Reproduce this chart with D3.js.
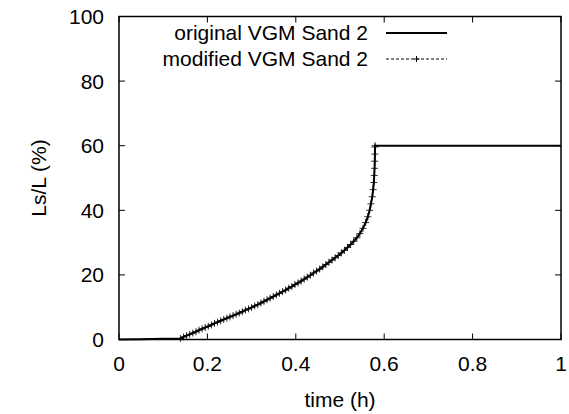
<!DOCTYPE html>
<html>
<head>
<meta charset="utf-8">
<script src="https://cdn.jsdelivr.net/npm/d3@7"></script>
<style>
  html, body { margin: 0; padding: 0; background: #fff; }
  svg text { font-family: "Liberation Sans", Arial, sans-serif; fill: #000; }
</style>
</head>
<body>
<svg id="chart" width="569" height="414"></svg>
<script>
// Saturation front position Ls/L (%) over time (h)
const xTicks = [0, 0.2, 0.4, 0.6, 0.8, 1];
const yTicks = [0, 20, 40, 60, 80, 100];
const seriesNames = ["original VGM Sand 2", "modified VGM Sand 2"];

// modified model: time (h) and Ls/L (%)
const modTime = [0.139, 0.146, 0.153, 0.160, 0.167, 0.174, 0.181, 0.188, 0.195, 0.202,
  0.209, 0.216, 0.223, 0.230, 0.237, 0.244, 0.251, 0.258, 0.265, 0.272,
  0.279, 0.286, 0.293, 0.300, 0.307, 0.314, 0.321, 0.328, 0.335, 0.342,
  0.349, 0.356, 0.363, 0.370, 0.377, 0.384, 0.391, 0.398, 0.405, 0.412,
  0.419, 0.426, 0.433, 0.440, 0.447, 0.454, 0.461, 0.468, 0.475, 0.482,
  0.489, 0.496, 0.503, 0.510, 0.517, 0.524, 0.531, 0.538, 0.545, 0.552,
  0.558, 0.563, 0.567, 0.570, 0.573, 0.575, 0.5765, 0.5775, 0.5782, 0.5787,
  0.5790, 0.5792, 0.5793];
const modLs = [0.3, 0.8, 1.2, 1.6, 2.0, 2.4, 2.9, 3.3, 3.7, 4.1,
  4.5, 5.0, 5.4, 5.8, 6.2, 6.6, 7.0, 7.4, 7.8, 8.2,
  8.6, 9.1, 9.5, 9.9, 10.4, 10.8, 11.3, 11.8, 12.3, 12.8,
  13.3, 13.8, 14.3, 14.8, 15.3, 15.9, 16.4, 17.0, 17.5, 18.1,
  18.7, 19.3, 19.9, 20.6, 21.2, 21.8, 22.5, 23.2, 23.9, 24.6,
  25.3, 26.0, 26.8, 27.6, 28.5, 29.4, 30.4, 31.5, 32.8, 34.4,
  36.2, 38.0, 40.0, 42.0, 44.2, 46.4, 48.6, 50.8, 53.0, 55.2,
  57.4, 59.6, 60.0];

// original model: early plateau, same front, then full-length plateau
const origHeadTime = [0, 0.05, 0.10];
const origHeadLs = [0, 0.1, 0.2];
const origTailTime = [1.0];
const origTailLs = [60.0];

const original = origHeadTime.map((t, i) => [t, origHeadLs[i]])
  .concat(modTime.map((t, i) => [t, modLs[i]]))
  .concat(origTailTime.map((t, i) => [t, origTailLs[i]]));
const modified = modTime.map((t, i) => [t, modLs[i]]);

const svg = d3.select("#chart");
const m = { left: 119, right: 561, top: 16.5, bottom: 339.5 };
const x = d3.scaleLinear().domain([0, 1]).range([m.left, m.right]);
const y = d3.scaleLinear().domain([0, 100]).range([m.bottom, m.top]);
const tickLen = 6;
const fs = 21;

// tick marks on all four sides, pointing inward
const ticks = svg.append("g").attr("stroke", "#000").attr("stroke-width", 1);
xTicks.forEach(v => {
  ticks.append("line").attr("x1", x(v)).attr("x2", x(v)).attr("y1", m.bottom).attr("y2", m.bottom - tickLen);
  ticks.append("line").attr("x1", x(v)).attr("x2", x(v)).attr("y1", m.top).attr("y2", m.top + tickLen);
});
yTicks.forEach(v => {
  ticks.append("line").attr("x1", m.left).attr("x2", m.left + tickLen).attr("y1", y(v)).attr("y2", y(v));
  ticks.append("line").attr("x1", m.right).attr("x2", m.right - tickLen).attr("y1", y(v)).attr("y2", y(v));
});

// tick labels
svg.append("g").selectAll("text").data(xTicks).join("text")
  .attr("x", d => x(d)).attr("y", m.bottom + 31)
  .attr("text-anchor", "middle").attr("font-size", fs)
  .text(d => d3.format("~g")(d));
svg.append("g").selectAll("text").data(yTicks).join("text")
  .attr("x", m.left - 15).attr("y", d => y(d) + 7.5)
  .attr("text-anchor", "end").attr("font-size", fs)
  .text(d => d);

// axis titles
svg.append("text").attr("x", x(0.5)).attr("y", 407)
  .attr("text-anchor", "middle").attr("font-size", fs).text("time (h)");
svg.append("text").attr("transform", `translate(46,${(m.top + m.bottom) / 2}) rotate(-90)`)
  .attr("text-anchor", "middle").attr("font-size", fs).text("Ls/L (%)");

const line = d3.line().x(d => x(d[0])).y(d => y(d[1]));

// modified series: thin dashed line with + markers
svg.append("path").datum(modified).attr("d", line)
  .attr("fill", "none").attr("stroke", "#000").attr("stroke-width", 1)
  .attr("stroke-dasharray", "3,2");
const plus = (cx, cy, s) => `M${cx - s},${cy}H${cx + s}M${cx},${cy - s}V${cy + s}`;
svg.append("path")
  .attr("d", modified.map(d => plus(x(d[0]), y(d[1]), 3.5)).join(""))
  .attr("fill", "none").attr("stroke", "#000").attr("stroke-width", 1).attr("stroke-opacity", 0.8);

// original series: solid line
svg.append("path").datum(original).attr("d", line)
  .attr("fill", "none").attr("stroke", "#000").attr("stroke-width", 2);

// frame
svg.append("rect").attr("x", m.left).attr("y", m.top)
  .attr("width", m.right - m.left).attr("height", m.bottom - m.top)
  .attr("fill", "none").attr("stroke", "#000").attr("stroke-width", 1.5);

// legend
const legend = svg.append("g");
const rows = [{ y: 33 }, { y: 59 }];
seriesNames.forEach((name, i) => {
  legend.append("text").attr("x", 368).attr("y", rows[i].y + 7)
    .attr("text-anchor", "end").attr("font-size", fs).text(name);
});
legend.append("line").attr("x1", 386).attr("x2", 447).attr("y1", rows[0].y).attr("y2", rows[0].y)
  .attr("stroke", "#000").attr("stroke-width", 2);
legend.append("line").attr("x1", 386).attr("x2", 447).attr("y1", rows[1].y).attr("y2", rows[1].y)
  .attr("stroke", "#000").attr("stroke-width", 1).attr("stroke-dasharray", "3,2");
legend.append("path").attr("d", plus(416.5, rows[1].y, 3))
  .attr("stroke", "#000").attr("stroke-width", 1).attr("fill", "none");
</script>
</body>
</html>
